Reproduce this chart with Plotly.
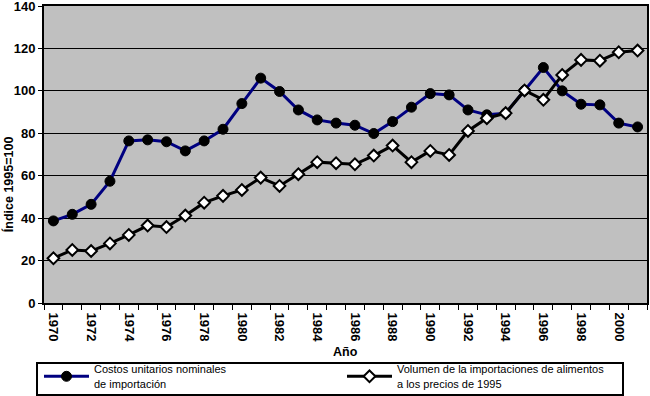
import plotly.graph_objects as go

years = [str(y) for y in range(1970, 2002)]
costos = [38.7, 41.8, 46.5, 57.4, 76.4, 76.9, 76.0, 71.7, 76.4, 81.9,
          94.0, 106.0, 99.7, 91.0, 86.3, 84.8, 83.8, 79.9, 85.5, 92.3,
          98.7, 98.1, 91.0, 88.7, 89.5, 100.2, 111.0, 100.0, 93.7, 93.4,
          84.8, 83.0]
volumen = [21.1, 25.0, 24.5, 28.1, 32.1, 36.5, 35.8, 41.2, 47.3, 50.5,
           53.3, 59.1, 55.2, 60.7, 66.4, 65.9, 65.4, 69.5, 74.2, 66.4,
           71.7, 69.8, 81.1, 87.1, 89.5, 100.2, 95.8, 107.5, 114.6, 114.2,
           118.2, 119.0]
tick_text = [y if int(y) % 2 == 0 else "" for y in years]
y_ticks = [0, 20, 40, 60, 80, 100, 120, 140]

name1 = "Costos unitarios nominales<br>de importación"
name2 = "Volumen de la importaciones de alimentos<br>a los precios de 1995"

fig = go.Figure()
fig.add_trace(go.Scatter(
    x=years, y=costos, mode="lines+markers", name=name1,
    line=dict(color="#000080", width=3),
    marker=dict(symbol="circle", size=10, color="black",
                line=dict(color="black", width=1)),
    cliponaxis=False,
))
fig.add_trace(go.Scatter(
    x=years, y=volumen, mode="lines+markers", name=name2,
    line=dict(color="black", width=3),
    marker=dict(symbol="diamond", size=9, color="white",
                line=dict(color="black", width=2)),
    cliponaxis=False,
))

tickfont = dict(family="Liberation Sans, Arial, sans-serif", size=13,
                color="black", weight="bold")

fig.update_layout(
    width=650, height=396,
    margin=dict(l=44, r=3, t=6, b=93, autoexpand=False),
    paper_bgcolor="white",
    plot_bgcolor="#C0C0C0",
    font=dict(family="Liberation Sans, Arial, sans-serif", color="black"),
    showlegend=True,
    legend=dict(
        orientation="h",
        x=-0.0083, xanchor="left",
        y=-0.1768, yanchor="top",
        borderwidth=0,
        bgcolor="rgba(0,0,0,0)",
        font=dict(family="Liberation Sans, Arial, sans-serif", size=11,
                  color="black"),
        entrywidth=243, entrywidthmode="pixels",
        itemwidth=45,
    ),
    xaxis=dict(
        type="category",
        range=[-0.5, 31.5],
        automargin=False,
        tickmode="array", tickvals=years, ticktext=tick_text,
        tickson="boundaries",
        ticks="outside", ticklen=5, tickcolor="black", tickwidth=1,
        tickangle=90, ticklabelstandoff=5,
        tickfont=tickfont,
        showline=True, linecolor="black", linewidth=2, mirror=True,
        showgrid=False, zeroline=False,
    ),
    yaxis=dict(
        range=[0, 140],
        automargin=False,
        tickmode="array", tickvals=y_ticks,
        ticks="outside", ticklen=4, tickcolor="black", tickwidth=1,
        tickfont=tickfont, ticklabeloverflow="allow",
        showline=True, linecolor="black", linewidth=2, mirror=True,
        showgrid=True, gridcolor="black", gridwidth=1,
        zeroline=False,
    ),
    shapes=[
        dict(type="rect", xref="paper", yref="paper",
             x0=-0.0116, x1=0.9602, y0=-0.3098, y1=-0.2020,
             line=dict(color="black", width=2), fillcolor="rgba(0,0,0,0)",
             layer="above"),
    ],
    annotations=[
        dict(text="Índice 1995=100", xref="paper", yref="paper",
             x=0, xshift=-36, y=0.40, xanchor="center", yanchor="middle",
             textangle=-90, showarrow=False,
             font=dict(family="Liberation Sans, Arial, sans-serif", size=12.5,
                       color="black", weight="bold")),
        dict(text="Año", xref="paper", yref="paper",
             x=0.5, y=-0.165, xanchor="center", yanchor="middle",
             showarrow=False,
             font=dict(family="Liberation Sans, Arial, sans-serif", size=12.5,
                       color="black", weight="bold")),
    ],
)

fig.write_html("out.html",
               config={"displayModeBar": False},
               post_script="document.body.style.margin='0';"
                           "document.body.style.padding='0';")
